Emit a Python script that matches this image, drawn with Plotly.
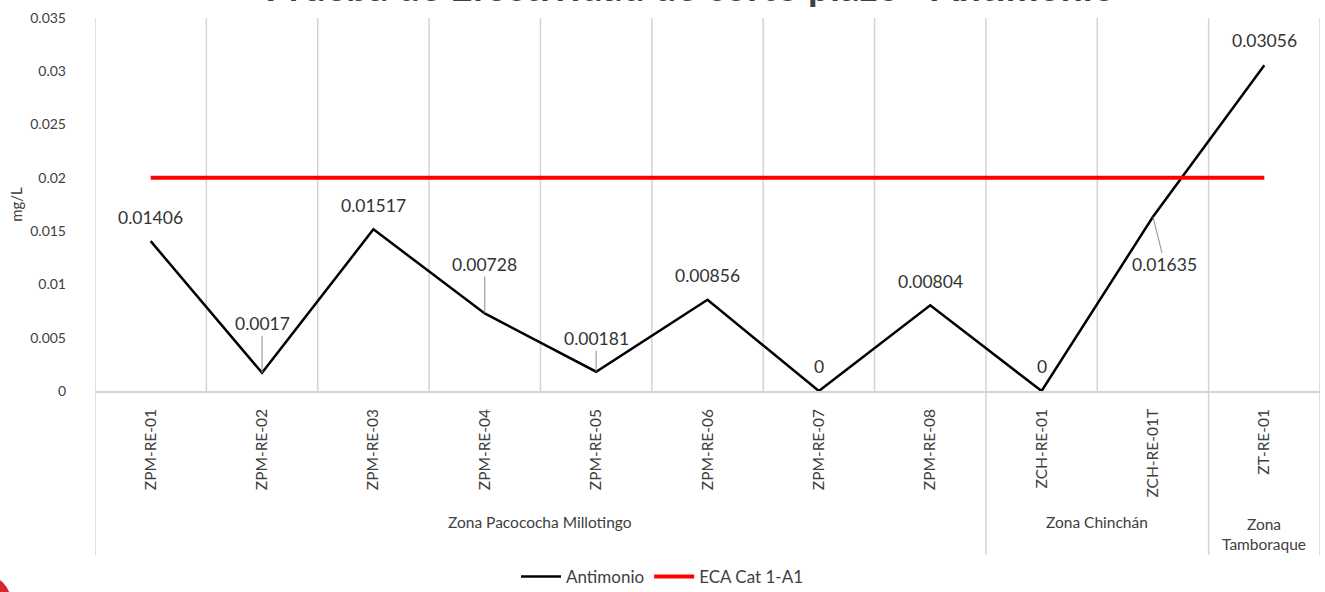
import plotly.graph_objects as go

# ---- data ----
categories = ["ZPM-RE-01", "ZPM-RE-02", "ZPM-RE-03", "ZPM-RE-04", "ZPM-RE-05",
              "ZPM-RE-06", "ZPM-RE-07", "ZPM-RE-08", "ZCH-RE-01", "ZCH-RE-01T", "ZT-RE-01"]
antimonio = [0.01406, 0.0017, 0.01517, 0.00728, 0.00181, 0.00856, 0, 0.00804, 0, 0.01635, 0.03056]
eca = [0.02] * len(categories)
zones = ["Zona Pacococha Millotingo", "Zona Chinchán", "Zona<br>Tamboraque"]
zone_sizes = [8, 2, 1]
y_ticks = [0, 0.005, 0.01, 0.015, 0.02, 0.025, 0.03, 0.035]
label_text = ["0.01406", "0.0017", "0.01517", "0.00728", "0.00181", "0.00856", "0",
              "0.00804", "0", "0.01635", "0.03056"]

FONT = "Lato"
TXT = "#404040"
xs = list(range(len(categories)))

fig = go.Figure()
fig.add_trace(go.Scatter(x=xs, y=antimonio, mode="lines", name="Antimonio",
                         line=dict(color="#000000", width=2.5)))
fig.add_trace(go.Scatter(x=xs, y=eca, mode="lines", name="ECA Cat 1-A1",
                         line=dict(color="#ff0000", width=4)))

# data labels (offsets in px: ax, ay, leader line?)
label_pos = [(0, -24, False), (0, -49, True), (0, -24, False), (0, -49, True),
             (0, -33, True), (0, -24, False), (0, -25, False), (0, -24, False),
             (0, -25, False), (12, 48, True), (0, -25, False)]
for i, (ax, ay, lead) in enumerate(label_pos):
    fig.add_annotation(x=xs[i], y=antimonio[i], xref="x", yref="y", text=label_text[i],
                       showarrow=True, arrowhead=0, ax=ax, ay=ay, standoff=0,
                       arrowwidth=1, arrowcolor="#8c8c8c" if lead else "rgba(0,0,0,0)",
                       font=dict(family=FONT, size=17.5, color="#333333"))

shapes = []
grid_col = "#d4d4d4"
group_bounds = [-0.5]
acc = 0
for s in zone_sizes:
    acc += s
    group_bounds.append(acc - 0.5)
for b in [i - 0.5 for i in range(len(categories) + 1)]:
    y0 = -0.4397 if b in group_bounds else 0
    shapes.append(dict(type="line", xref="x", yref="paper", x0=b, x1=b, y0=y0, y1=1,
                       line=dict(color=grid_col, width=1.5), layer="below"))
# decorative red corner mark
shapes.append(dict(type="circle", xref="paper", yref="paper",
                   x0=(-52 - 95) / 1225, x1=(12 - 95) / 1225,
                   y0=(391 - 637) / 373, y1=(391 - 573) / 373,
                   fillcolor="#d7262e", line=dict(width=0)))
fig.update_layout(shapes=shapes)

# zone labels
acc = 0
for z, s in zip(zones, zone_sizes):
    center = acc + (s - 1) / 2
    acc += s
    fig.add_annotation(x=center, y=(391 - 522) / 373 if "<br>" not in z else (391 - 534) / 373,
                       xref="x", yref="paper", text=z, showarrow=False, yanchor="middle",
                       font=dict(family=FONT, size=15.5, color=TXT))

# title (mostly cut off at the top edge, as in the reference)
fig.add_annotation(x=(690 - 95) / 1225, y=1, xref="paper", yref="paper", yanchor="middle",
                   xanchor="center", yshift=18 + 14, showarrow=False,
                   text="<b>Prueba de Efectividad de corto plazo - Antimonio</b>",
                   font=dict(family=FONT, size=39, color=TXT))

fig.update_layout(
    width=1325, height=592,
    margin=dict(l=95, r=5, t=18, b=201),
    paper_bgcolor="white", plot_bgcolor="white",
    font=dict(family=FONT, color=TXT),
    showlegend=True,
    legend=dict(orientation="h", xref="container", yref="container", x=0.5, y=1 - 577 / 592,
                xanchor="center", yanchor="middle", font=dict(family=FONT, size=17, color=TXT),
                itemwidth=40, tracegroupgap=0),
    xaxis=dict(range=[-0.5, len(categories) - 0.5], tickvals=xs, ticktext=categories,
               tickangle=-90, showgrid=False, zeroline=False, showline=True, linecolor=grid_col,
               linewidth=1.5, ticks="", ticklabelstandoff=10, automargin=False,
               tickfont=dict(family=FONT, size=15.5, color=TXT)),
    yaxis=dict(range=[0, 0.035], tickvals=y_ticks, showgrid=False, zeroline=False,
               showline=False, ticks="", ticklabelstandoff=28, automargin=False,
               tickfont=dict(family=FONT, size=14, color=TXT),
               title=dict(text="mg/L", standoff=3, font=dict(family=FONT, size=15, color=TXT))),
)

fig.write_html("out.html", config={"displayModeBar": False},
               post_script="document.body.style.margin='0';document.body.style.overflow='hidden';")
